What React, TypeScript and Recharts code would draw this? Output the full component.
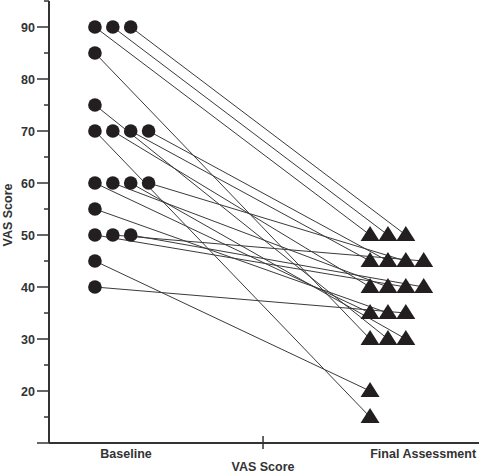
import { ScatterChart, Scatter, XAxis, YAxis } from "recharts";

// VAS score per patient, same order in both arrays
const baseline = [90, 90, 90, 85, 75, 70, 70, 70, 70, 60, 60, 60, 60, 55, 50, 50, 50, 45, 40];
const finalScore = [50, 50, 50, 30, 30, 15, 40, 45, 45, 35, 40, 30, 45, 35, 40, 45, 40, 20, 35];
const categories = ["Baseline", "Final Assessment"];
const yTicks = [10, 15, 20, 25, 30, 35, 40, 45, 50, 55, 60, 65, 70, 75, 80, 85, 90, 95];

const STEP = 0.065; // side-by-side offset for equal scores
const FONT = "'Liberation Sans', Arial, sans-serif";
const INK = "#231f20";

const jitter = (values: number[]) => {
  const seen: Record<number, number> = {};
  return values.map((v) => {
    const k = seen[v] ?? 0;
    seen[v] = k + 1;
    return k;
  });
};

const bj = jitter(baseline);
const fj = jitter(finalScore);

const startPts = baseline.map((v, i) => ({ x: bj[i] * STEP, y: v }));
const endPts = finalScore.map((v, i) => ({ x: 1 + fj[i] * STEP, y: v }));
const pairs = baseline.map((_, i) => [startPts[i], endPts[i]]);

const Dot = (p: any) => <circle cx={p.cx} cy={p.cy} r={6.8} fill={INK} />;
const Tri = (p: any) => (
  <path
    d={`M${p.cx},${p.cy - 9}L${p.cx + 9.5},${p.cy + 6}L${p.cx - 9.5},${p.cy + 6}Z`}
    fill={INK}
  />
);
const Empty = () => <g />;

const YTick = ({ x, y, payload }: any) => {
  const v = payload.value;
  const major = v % 10 === 0;
  return (
    <g>
      <line x1={x - (major ? 12 : 5)} x2={x} y1={y} y2={y} stroke="#333" strokeWidth={1.5} />
      {major && v >= 20 && (
        <text x={x - 14} y={y + 4.5} textAnchor="end" fontFamily={FONT} fontWeight="bold" fontSize={12.5} fill="#333">
          {v}
        </text>
      )}
    </g>
  );
};

const XTick = ({ x, y, index }: any) => {
  if (index === 1)
    return <line x1={x} x2={x} y1={y - 7} y2={y + 6} stroke="#333" strokeWidth={1.5} />;
  const label = index === 0 ? categories[0] : categories[1];
  return (
    <text x={x} y={y + 15} textAnchor="middle" fontFamily={FONT} fontWeight="bold" fontSize={12.5} fill="#333">
      {label}
    </text>
  );
};

export default function App() {
  return (
    <div style={{ position: "absolute", left: 0, top: 0 }}>
      <ScatterChart width={479} height={473} margin={{ top: 1, right: 0, bottom: 0, left: 0 }}>
        <XAxis
          type="number"
          dataKey="x"
          domain={[-0.167, 1.396]}
          ticks={[0.113, 0.611, 1.193]}
          interval={0}
          tick={<XTick />}
          tickLine={false}
          tickSize={0}
          tickMargin={0}
          height={30}
          axisLine={{ stroke: "#333", strokeWidth: 2 }}
          allowDataOverflow
          label={() => (
            <text x={263} y={471} textAnchor="middle" fontFamily={FONT} fontWeight="bold" fontSize={12.5} fill="#333">
              VAS Score
            </text>
          )}
        />
        <YAxis
          type="number"
          dataKey="y"
          domain={[10, 95]}
          ticks={yTicks}
          interval={0}
          tick={<YTick />}
          tickLine={false}
          tickSize={0}
          tickMargin={0}
          width={49}
          axisLine={{ stroke: "#333", strokeWidth: 2 }}
          allowDataOverflow
          label={() => (
            <text
              x={12}
              y={215}
              transform="rotate(-90 12 215)"
              textAnchor="middle"
              fontFamily={FONT}
              fontWeight="bold"
              fontSize={12.5}
              fill="#333"
            >
              VAS Score
            </text>
          )}
        />
        {pairs.map((d, i) => (
          <Scatter
            key={i}
            data={d}
            line={{ stroke: "#3a3a3a", strokeWidth: 1 }}
            shape={<Empty />}
            isAnimationActive={false}
          />
        ))}
        <Scatter data={startPts} shape={<Dot />} isAnimationActive={false} />
        <Scatter data={endPts} shape={<Tri />} isAnimationActive={false} />
      </ScatterChart>
    </div>
  );
}
